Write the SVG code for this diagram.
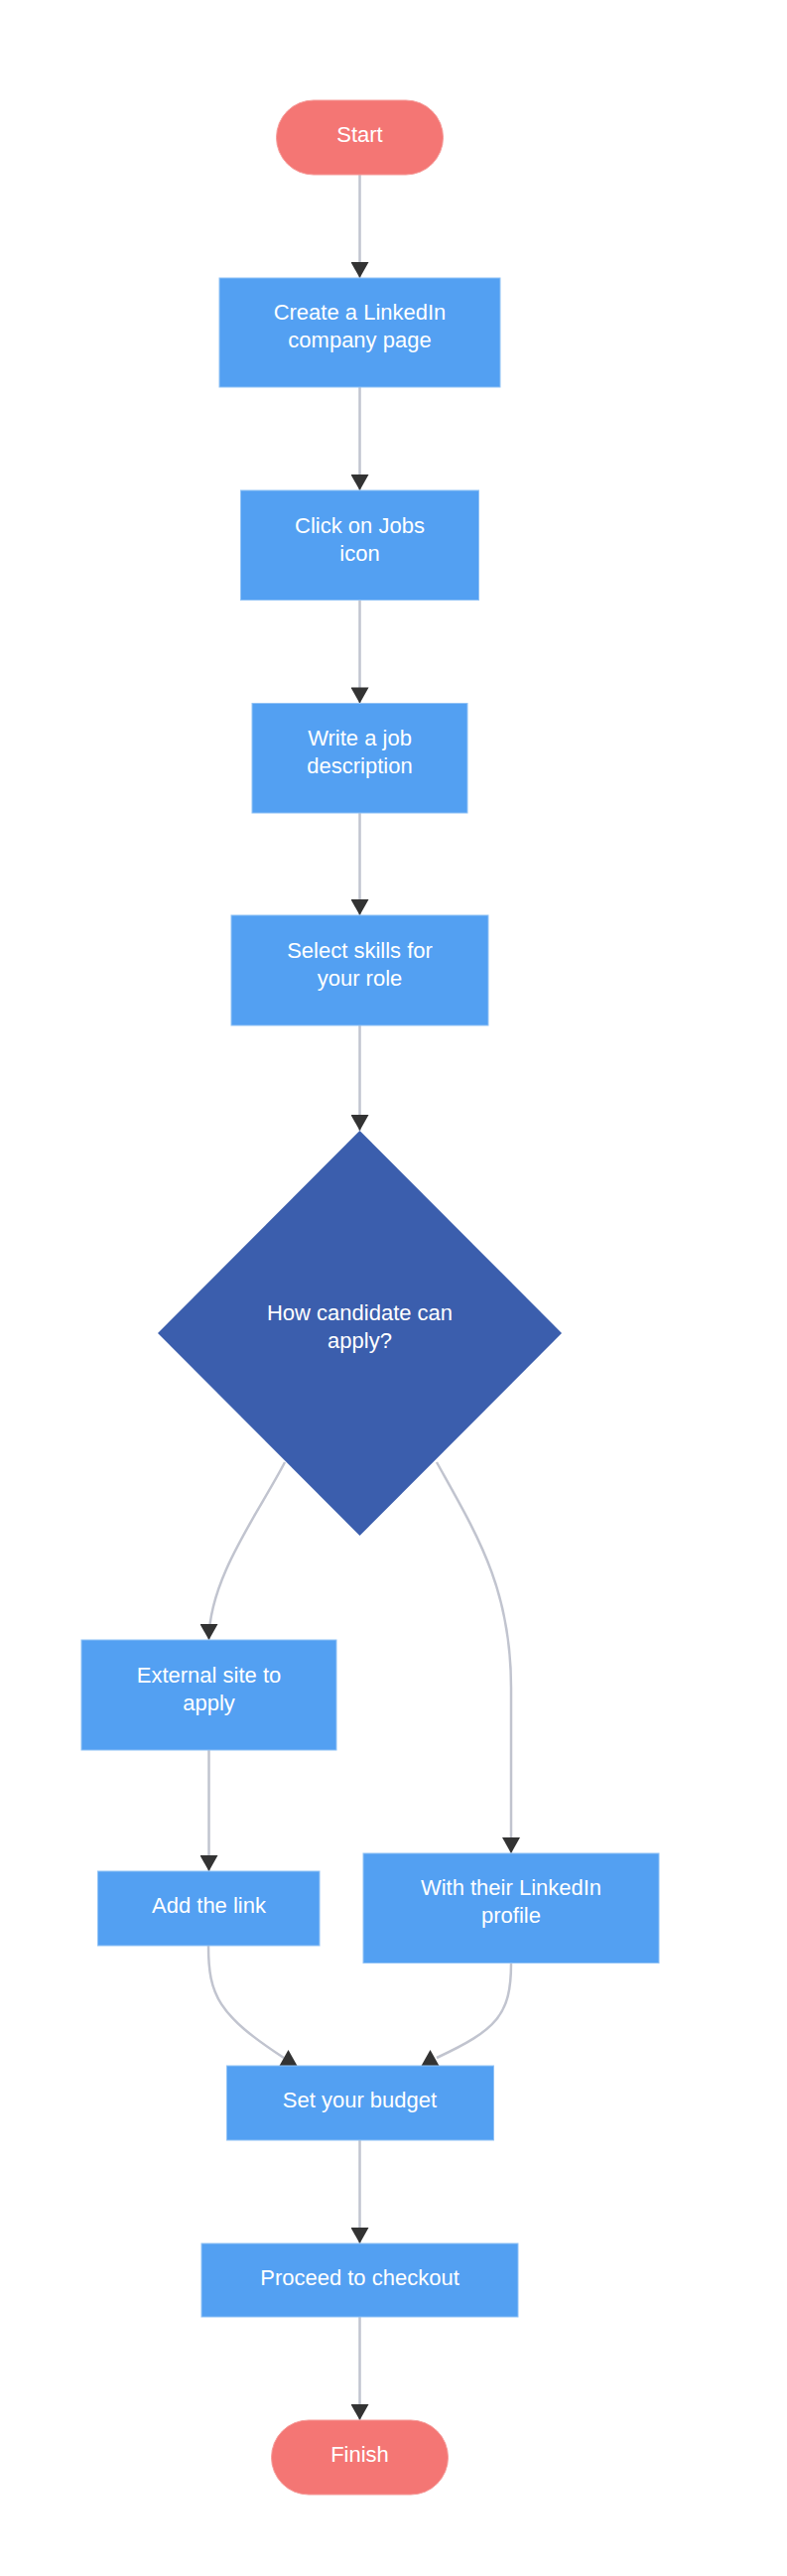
<svg xmlns="http://www.w3.org/2000/svg" width="793" height="2595" viewBox="0 0 793 2595">
<style>
.bg{fill:#ffffff}
.box{fill:#53a0f2;stroke:#92c3f6;stroke-width:1}
.term{fill:#f47674;stroke:#f69c9a;stroke-width:1}
.dec{fill:#3b5ead}
.lbl{font-family:"Liberation Sans",Arial,sans-serif;font-size:22px;fill:#ffffff;text-anchor:middle}
.conn{fill:none;stroke:#c1c4cf;stroke-width:2.5}
.head{fill:#333333}
</style>
<defs>
<marker id="arr" markerUnits="userSpaceOnUse" markerWidth="18" markerHeight="18" viewBox="0 0 16 18" refX="16" refY="9" orient="auto">
<path d="M0,0 L16,9 L0,18 z" fill="#333333"/>
</marker>
</defs>
<rect class="bg" x="0" y="0" width="793" height="2595"/>
<g id="connectors">
<path class="conn" d="M362.5,176 V280" marker-end="url(#arr)"/>
<path class="conn" d="M362.5,390 V494" marker-end="url(#arr)"/>
<path class="conn" d="M362.5,604.5 V708.5" marker-end="url(#arr)"/>
<path class="conn" d="M362.5,819 V922" marker-end="url(#arr)"/>
<path class="conn" d="M362.5,1033 V1139" marker-end="url(#arr)"/>
<path class="conn" d="M287,1473 C260,1525 210.5,1590 210.5,1652" marker-end="url(#arr)"/>
<path class="conn" d="M440,1473 C480,1545 515,1600 515,1700 L515,1867" marker-end="url(#arr)"/>
<path class="conn" d="M210.5,1763 V1885" marker-end="url(#arr)"/>
<path class="conn" d="M210,1960 C210,2010 220,2030 286,2073"/>
<polygon class="head" points="281.5,2081 290.5,2065 299.5,2081"/>
<path class="conn" d="M515,1978 C515,2030 500,2045 440,2073"/>
<polygon class="head" points="424.5,2081 433.5,2065 442.5,2081"/>
<path class="conn" d="M362.5,2156 V2260" marker-end="url(#arr)"/>
<path class="conn" d="M362.5,2334 V2438" marker-end="url(#arr)"/>
</g>
<g id="start">
<rect class="term" x="278.5" y="101" width="168" height="75" rx="37.5"/>
<text class="lbl" x="362.5" y="143">Start</text>
</g>
<g id="create">
<rect class="box" x="221" y="280" width="283" height="110"/>
<text class="lbl" x="362.5" y="322">Create a LinkedIn</text>
<text class="lbl" x="362.5" y="350">company page</text>
</g>
<g id="click">
<rect class="box" x="242.5" y="494" width="240" height="110.5"/>
<text class="lbl" x="362.5" y="536.5">Click on Jobs</text>
<text class="lbl" x="362.5" y="564.5">icon</text>
</g>
<g id="write">
<rect class="box" x="254" y="708.5" width="217" height="110.5"/>
<text class="lbl" x="362.5" y="751">Write a job</text>
<text class="lbl" x="362.5" y="779">description</text>
</g>
<g id="select">
<rect class="box" x="233" y="922" width="259" height="111"/>
<text class="lbl" x="362.5" y="964.5">Select skills for</text>
<text class="lbl" x="362.5" y="992.5">your role</text>
</g>
<g id="decision">
<polygon class="dec" points="362.5,1139 566,1343 362.5,1547 159,1343"/>
<text class="lbl" x="362.5" y="1329.5">How candidate can</text>
<text class="lbl" x="362.5" y="1357.5">apply?</text>
</g>
<g id="external">
<rect class="box" x="82" y="1652" width="257" height="111"/>
<text class="lbl" x="210.5" y="1695">External site to</text>
<text class="lbl" x="210.5" y="1723">apply</text>
</g>
<g id="addlink">
<rect class="box" x="98.5" y="1885" width="223.5" height="75"/>
<text class="lbl" x="210.5" y="1927">Add the link</text>
</g>
<g id="profile">
<rect class="box" x="366" y="1867" width="298" height="110.5"/>
<text class="lbl" x="515" y="1908.5">With their LinkedIn</text>
<text class="lbl" x="515" y="1936.5">profile</text>
</g>
<g id="budget">
<rect class="box" x="228.5" y="2081" width="269" height="75"/>
<text class="lbl" x="362.5" y="2123">Set your budget</text>
</g>
<g id="checkout">
<rect class="box" x="203" y="2260" width="319" height="74"/>
<text class="lbl" x="362.5" y="2302">Proceed to checkout</text>
</g>
<g id="finish">
<rect class="term" x="273.5" y="2438" width="178" height="75" rx="37.5"/>
<text class="lbl" x="362.5" y="2480">Finish</text>
</g>
</svg>
